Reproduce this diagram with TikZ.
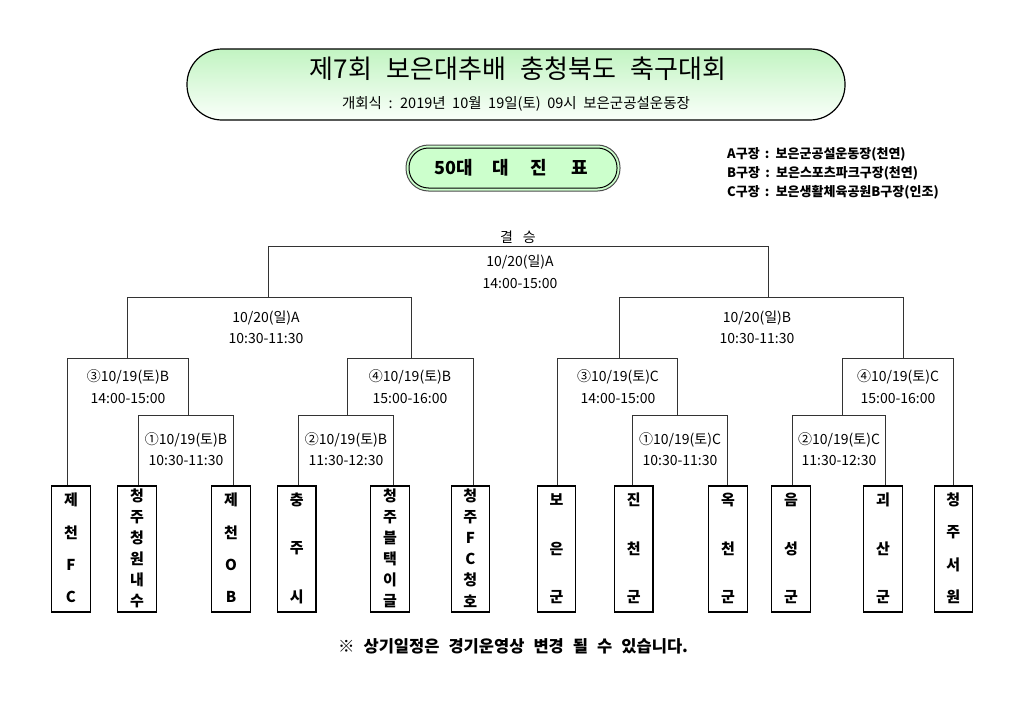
\documentclass[tikz,border=0pt]{standalone}
\usepackage{fontspec}
\setmainfont{Noto Sans CJK KR}
\definecolor{titletop}{HTML}{C2F4C2}
\definecolor{titlebot}{HTML}{FAFFFA}
\definecolor{pillgreen}{HTML}{CCFFCC}
\newcommand\legfont{\fontsize{13}{13}\selectfont\bfseries\spaceskip=0.4em\relax}
\newcommand\teambox[4]{%
  \node[team] (#1) at (#2,549) {};
  \pgfmathsetmacro\tstep{ifthenelse(#3==6,21,ifthenelse(#3==4,32.3,48.5))}
  \pgfmathsetmacro\tstart{ifthenelse(#3==6,496,500)}
  \foreach \c [count=\i from 0] in {#4} {\node[tchar] (#1-\i) at (#2,{\tstart+\i*\tstep}) {\c};}
}
\begin{document}
\begin{tikzpicture}[x=1pt,y=-1pt,
  br/.style={draw=black!80, line width=0.9pt},
  team/.style={draw=black, line width=1.1pt, minimum width=38.5pt, minimum height=126pt, inner sep=0pt},
  tchar/.style={font=\fontsize{15}{15}\selectfont\bfseries, inner sep=0pt},
  lbl/.style={font=\fontsize{14}{21.5}\selectfont, align=center, inner sep=0pt},
  leg/.style={anchor=west, inner sep=0pt}]
\useasboundingbox (0,0) rectangle (1024,717);
\fill[white] (0,0) rectangle (1024,717);
% title pill
\path[draw=black, line width=1.2pt, top color=titletop, bottom color=titlebot, rounded corners=35pt] (187,49) rectangle (845,120);
\node (title) at (518,69) {\fontsize{26}{26}\selectfont\spaceskip=0.55em\relax 제7회 보은대추배 충청북도 축구대회};
\node (sub) at (516,104) {\fontsize{14.5}{14.5}\selectfont\spaceskip=0.45em\relax 개회식 : 2019년 10월 19일(토) 09시 보은군공설운동장};
% 50대 pill
\path[draw=black!70, line width=1pt, fill=pillgreen, rounded corners=22.5pt] (406,145) rectangle (620,191);
\path[draw=black, line width=1pt, rounded corners=19.5pt] (409,148) rectangle (617,188);
\node (grp) at (511,168) {\fontsize{18}{18}\selectfont\bfseries 50대\hspace{20pt}대\hspace{21pt}진\hspace{24pt}표};
% legend
\node[leg] (legA) at (727,154) {\legfont A구장 : 보은군공설운동장(천연)};
\node[leg] (legB) at (727,173) {\legfont B구장 : 보은스포츠파크구장(천연)};
\node[leg] (legC) at (727,192) {\legfont C구장 : 보은생활체육공원B구장(인조)};
% teams
\teambox{t1}{71}{4}{제,천,F,C}
\teambox{t2}{137}{6}{청,주,청,원,내,수}
\teambox{t3}{231}{4}{제,천,O,B}
\teambox{t4}{296.7}{3}{충,주,시}
\teambox{t5}{390}{6}{청,주,블,택,이,글}
\teambox{t6}{470.3}{6}{청,주,F,C,청,호}
\teambox{t7}{556.5}{3}{보,은,군}
\teambox{t8}{633.7}{3}{진,천,군}
\teambox{t9}{728}{3}{옥,천,군}
\teambox{t10}{791}{3}{음,성,군}
\teambox{t11}{883}{3}{괴,산,군}
\teambox{t12}{953.3}{4}{청,주,서,원}
% bracket lines
\draw[br] (268,297.5) |- (768,246) -- (768,297.5);
\draw[br] (127,358) |- (411,297.5) -- (411,358);
\draw[br] (619,358) |- (903,297.5) -- (903,358);
\draw[br] (t1.north -| 67,0) |- (188,358) -- (188,415);
\draw[br] (t2.north -| 138,0) |- (233,415) -- (t3.north -| 233,0);
\draw[br] (347,415) |- (473,358) -- (t6.north -| 473,0);
\draw[br] (t4.north -| 298,0) |- (393,415) -- (t5.north -| 393,0);
\draw[br] (t7.north -| 557,0) |- (677,358) -- (677,415);
\draw[br] (t8.north -| 632,0) |- (727,415) -- (t9.north -| 727,0);
\draw[br] (842,415) |- (953,358) -- (t12.north -| 953,0);
\draw[br] (t10.north -| 792,0) |- (885,415) -- (t11.north -| 885,0);
% labels
\node[lbl] (fin) at (518,237) {결\hspace{0.7em}승};
\node[lbl] (m7) at (520,272) {10/20(일)A\\14:00-15:00};
\node[lbl] (m5) at (266,327.5) {10/20(일)A\\10:30-11:30};
\node[lbl] (m6) at (757,327.5) {10/20(일)B\\10:30-11:30};
\node[lbl] (q3b) at (128,386.5) {③10/19(토)B\\14:00-15:00};
\node[lbl] (q4b) at (410,386.5) {④10/19(토)B\\15:00-16:00};
\node[lbl] (q3c) at (618,386.5) {③10/19(토)C\\14:00-15:00};
\node[lbl] (q4c) at (898,386.5) {④10/19(토)C\\15:00-16:00};
\node[lbl] (r1b) at (186,449) {①10/19(토)B\\10:30-11:30};
\node[lbl] (r2b) at (346,449) {②10/19(토)B\\11:30-12:30};
\node[lbl] (r1c) at (680,449) {①10/19(토)C\\10:30-11:30};
\node[lbl] (r2c) at (839,449) {②10/19(토)C\\11:30-12:30};
% footer
\node (foot) at (513,646.5) {\fontsize{16.5}{16.5}\selectfont\bfseries\spaceskip=0.55em\relax ※ 상기일정은 경기운영상 변경 될 수 있습니다.};
\end{tikzpicture}
\end{document}
